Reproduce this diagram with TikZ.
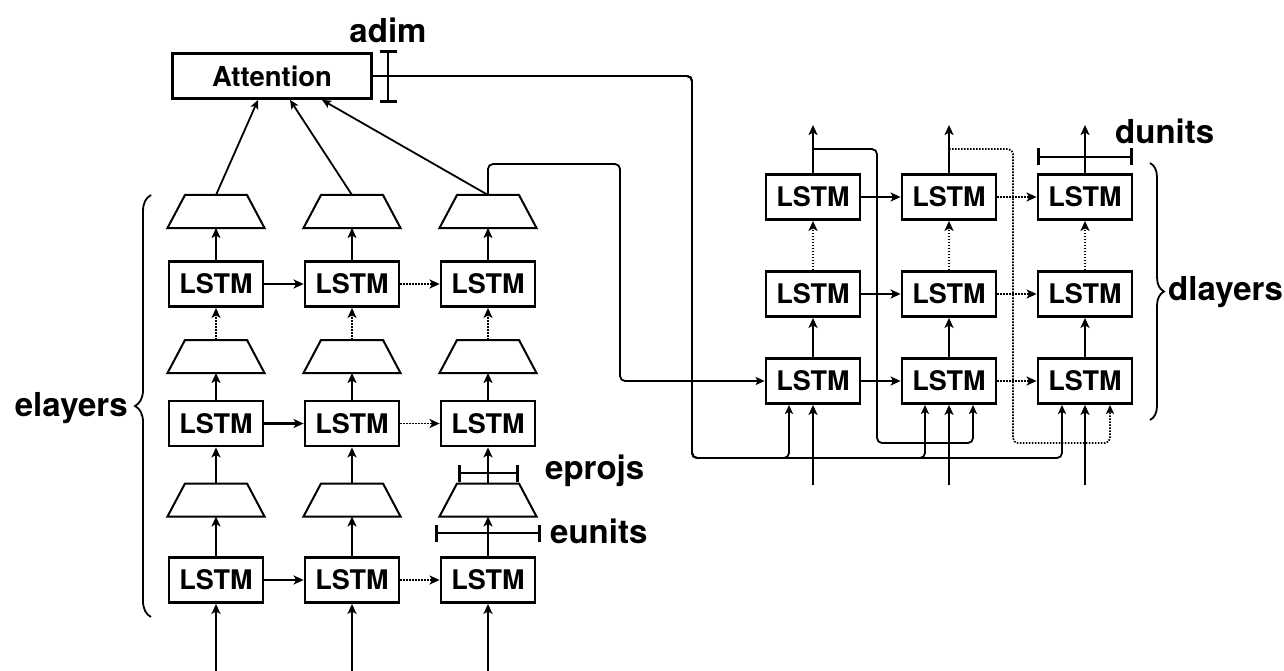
\documentclass[tikz,border=0pt]{standalone}
\usepackage{fontspec}
\setmainfont{TeX Gyre Heros}
\usetikzlibrary{arrows.meta,decorations.pathreplacing,calc}
\begin{document}
\begin{tikzpicture}[x=1pt,y=-1pt,
  lstm/.style={draw,line width=2.8pt,minimum width=94pt,minimum height=45pt,inner sep=0pt,font=\fontsize{27}{27}\selectfont\bfseries},
  trapline/.style={line width=2pt,line join=miter},
  main/.style={line width=2.6pt,-{Stealth[length=10pt,width=9pt,inset=2.5pt]}},
  dots/.style={line width=1.8pt,dash pattern=on 1.6pt off 1.4pt,-{Stealth[length=10pt,width=9pt,inset=2.5pt]}},
  thinl/.style={line width=1.8pt,-{Stealth[length=9pt,width=8pt,inset=2pt]}},
  thindots/.style={line width=1.7pt,dash pattern=on 1.6pt off 1.4pt,-{Stealth[length=9pt,width=8pt,inset=2pt]}},
  bar/.style={line width=2.6pt,{Bar[width=17pt,line width=2.6pt]}-{Bar[width=17pt,line width=2.6pt]}},
  lbl/.style={font=\fontsize{33}{33}\selectfont\bfseries,inner sep=0pt},
  brc/.style={line width=1.8pt,decorate}]
\useasboundingbox (0,0) rectangle (1284,671);

% Attention
\node[draw,line width=2.8pt,minimum width=199pt,minimum height=45pt,inner sep=0pt,font=\fontsize{27.5}{27.5}\selectfont\bfseries] (att) at (272,76) {Attention};

% Encoder
\foreach \c/\x in {1/216,2/352,3/488}{
  \node[lstm] (eA\c) at (\x,284) {LSTM};
  \node[lstm] (eB\c) at (\x,423.5) {LSTM};
  \node[lstm] (eC\c) at (\x,580) {LSTM};
  \foreach \r/\y in {A/211.5,B/356.5,C/500}{
    \draw[trapline] ({\x-48.5},{\y+16.5}) -- ({\x+48.5},{\y+16.5}) -- ({\x+31},{\y-16.5}) -- ({\x-31},{\y-16.5}) -- cycle;
    \coordinate (t\r\c n) at (\x,{\y-16.5});
    \coordinate (t\r\c s) at (\x,{\y+16.5});
  }
  \coordinate (in\c) at (\x,671);
  \draw[main] (in\c) -- (eC\c);
  \draw[main] (eC\c) -- (tC\c s);
  \draw[main] (tC\c n) -- (eB\c);
  \draw[main] (eB\c) -- (tB\c s);
  \draw[dots] (tB\c n) -- (eA\c);
  \draw[main] (eA\c) -- (tA\c s);
}
\foreach \r in {A,B,C}{
  \draw[main] (e\r1) -- (e\r2);
  \draw[dots] (e\r2) -- (e\r3);
}
\draw[thinl] (tA1n) -- ([xshift=-14pt]att.south);
\draw[thinl] (tA2n) -- ([xshift=18pt]att.south);
\draw[thinl] (tA3n) -- ([xshift=50pt]att.south);

% Decoder
\foreach \c/\x in {1/813,2/949,3/1085}{
  \node[lstm] (dA\c) at (\x,197) {LSTM};
  \node[lstm] (dB\c) at (\x,294) {LSTM};
  \node[lstm] (dC\c) at (\x,381) {LSTM};
  \coordinate (din\c) at (\x,485);
  \coordinate (dout\c) at (\x,125);
  \draw[main] (din\c) -- (dC\c);
  \draw[main] (dC\c) -- (dB\c);
  \draw[dots] (dB\c) -- (dA\c);
  \draw[main] (dA\c) -- (dout\c);
}
\foreach \r in {A,B,C}{
  \draw[main] (d\r1) -- (d\r2);
  \draw[dots] (d\r2) -- (d\r3);
}

% encoder output to decoder
\draw[thinl,rounded corners=5pt] (tA3n) |- (620,164) |- (dC1.west);

% attention to decoder
\draw[thinl,rounded corners=5pt] (att.east) -| (692,458) -| ([xshift=-24pt]dC1.south);
\draw[thinl,rounded corners=5pt] (att.east) -| (692,458) -| ([xshift=-24pt]dC2.south);
\draw[thinl,rounded corners=5pt] (att.east) -| (692,458) -| ([xshift=-23pt]dC3.south);

% feedback
\coordinate (fb1) at ($(dA1.north)+(0,-24)$);
\coordinate (fb2) at ($(dA2.north)+(0,-24)$);
\draw[thinl,rounded corners=5pt] (fb1) -| (877,443) -| ([xshift=24pt]dC2.south);
\draw[thindots,rounded corners=5pt] (fb2) -| (1013,443) -| ([xshift=25pt]dC3.south);

% dimension bars
\draw[bar] (388,50) -- (388,103);
\draw[bar] (1037,157) -- (1133,157);
\draw[bar] (458,473) -- (519,473);
\draw[bar] (435,533) -- (541,533);

% labels
\node[lbl] (ladim) at (388,30) {adim};
\node[lbl,anchor=west] (ldunits) at (1115,131) {dunits};
\node[lbl,anchor=west] (leprojs) at (545,471) {eprojs};
\node[lbl,anchor=west] (leunits) at (550,531) {eunits};

% braces
\draw[brc,decoration={brace,amplitude=16pt}] (151,617) -- (151,195);
\node[lbl,anchor=east] (lel) at (128,408) {elayers};
\draw[brc,decoration={brace,amplitude=14pt}] (1150,163) -- (1150,420);
\node[lbl,anchor=west] (ldl) at (1168,292) {dlayers};
\end{tikzpicture}
\end{document}
